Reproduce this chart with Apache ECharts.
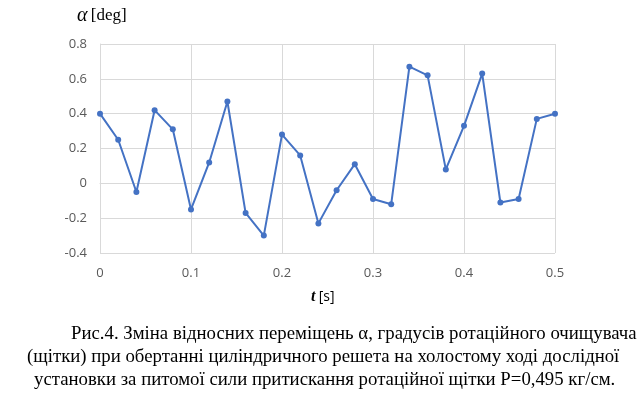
<!DOCTYPE html>
<html><head><meta charset="utf-8">
<script src="https://cdn.jsdelivr.net/npm/echarts@6/dist/echarts.min.js"></script>
<style>html,body{margin:0;padding:0;background:#fff}#c{width:643px;height:395px}</style>
</head><body><div id="c"></div>
<script>
const times = [0,0.02,0.04,0.06,0.08,0.10,0.12,0.14,0.16,0.18,0.20,0.22,0.24,0.26,0.28,0.30,0.32,0.34,0.36,0.38,0.40,0.42,0.44,0.46,0.48,0.50];
const alphaValues = [0.40,0.25,-0.05,0.42,0.31,-0.15,0.12,0.47,-0.17,-0.30,0.28,0.16,-0.23,-0.04,0.11,-0.09,-0.12,0.67,0.62,0.08,0.33,0.63,-0.11,-0.09,0.37,0.40];
const captionLines = [
  'Рис.4. Зміна відносних переміщень α, градусів ротаційного очищувача',
  '(щітки) при обертанні циліндричного решета на холостому ході дослідної',
  'установки за питомої сили притискання ротаційної щітки P=0,495 кг/см.'
];
const chart = echarts.init(document.getElementById('c'), null, {renderer:'canvas'});
const serif = '"Liberation Serif","Times New Roman",serif';
chart.setOption({
  animation:false,
  grid:{left:100,right:88,top:44,bottom:142},
  xAxis:{type:'value',min:0,max:0.5,interval:0.1,
    axisLine:{lineStyle:{color:'#d9d9d9',width:1}},axisTick:{show:false},
    splitLine:{lineStyle:{color:'#d9d9d9',width:1}},
    axisLabel:{color:'#595959',fontSize:13,fontFamily:'"Open Sans",sans-serif',margin:14,formatter:v=>String(+v.toFixed(1))}},
  yAxis:{type:'value',min:-0.4,max:0.8,interval:0.2,
    axisLine:{show:true,lineStyle:{color:'#d9d9d9',width:1}},axisTick:{show:false},
    splitLine:{lineStyle:{color:'#d9d9d9',width:1}},
    axisLabel:{color:'#595959',fontSize:13,fontFamily:'"Open Sans",sans-serif',margin:13,formatter:v=>String(+v.toFixed(1))}},
  series:[{type:'line',data:times.map((t,i)=>[t,alphaValues[i]]),
    lineStyle:{color:'#4472C4',width:2},itemStyle:{color:'#4472C4'},
    symbol:'circle',symbolSize:6,showSymbol:true}],
  graphic:[
    {type:'text',left:77,top:6,style:{rich:{a:{fontFamily:serif,fontStyle:'italic',fontSize:20,fill:'#000'},b:{fontFamily:serif,fontSize:17,fill:'#000'}},text:'{a|α} {b|[deg]}'}},
    {type:'text',left:311,top:289,style:{rich:{a:{fontFamily:serif,fontStyle:'italic',fontWeight:'bold',fontSize:16,fill:'#000'},b:{fontFamily:'"Open Sans",sans-serif',fontSize:14,fill:'#000'}},text:'{a|t} {b|[s]}'}},
    {type:'text',left:71,top:325,style:{text:captionLines[0],font:'18.8px '+serif,fill:'#000'}},
    {type:'text',left:27,top:348,style:{text:captionLines[1],font:'18.8px '+serif,fill:'#000'}},
    {type:'text',left:34,top:371,style:{text:captionLines[2],font:'18.8px '+serif,fill:'#000'}}
  ]
});
</script></body></html>
